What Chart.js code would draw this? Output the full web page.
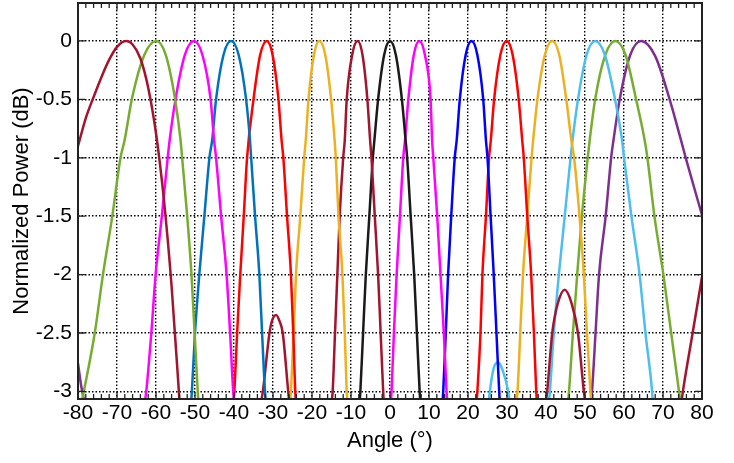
<!DOCTYPE html>
<html>
<head>
<meta charset="utf-8">
<script src="https://cdn.jsdelivr.net/npm/chart.js@4.4.1/dist/chart.umd.min.js"></script>
<style>
  body { margin: 0; background: #fff; }
  canvas { display: block; }
</style>
</head>
<body>
<canvas id="beams" width="734" height="463"></canvas>
<script>
// angle (deg), normalized power (dB), one list per beam
const beamA = [[-80, -0.9], [-78, -0.66], [-76, -0.48], [-74, -0.31], [-72, -0.16], [-70, -0.05], [-67.6, 0],
  [-66, -0.03], [-64, -0.15], [-62, -0.4], [-60, -0.79], [-58, -1.35], [-56, -2.1], [-54, -3.07], [-53.9, -3.12]];
const beamB = [[-79.1, -3.1], [-78.5, -3], [-75.7, -2.5], [-73.6, -2], [-71.2, -1.5], [-69.1, -1], [-68.05, -0.85],
  [-66.2, -0.5], [-63.0, -0.12], [-59.9, 0], [-57.5, -0.12], [-55.1, -0.5], [-53.7, -0.85], [-53.3, -1],
  [-52.0, -1.5], [-50.9, -2], [-50.1, -2.5], [-49.3, -3], [-49.1, -3.1]];
const beamC = [[-62.9, -3.1], [-62.5, -3], [-61.2, -2.5], [-60.1, -2], [-58.5, -1.5], [-57.0, -1], [-56.5, -0.85],
  [-55.0, -0.5], [-52.6, -0.12], [-50.3, 0], [-48.1, -0.12], [-46.0, -0.5], [-45.1, -0.85], [-44.6, -1],
  [-43.3, -1.5], [-41.9, -2], [-41.0, -2.5], [-40.2, -3], [-39.9, -3.1]];
const beamD = [[-51.0, -3.1], [-50.8, -3], [-50.0, -2.5], [-48.9, -2], [-47.6, -1.5], [-46.3, -1], [-45.6, -0.85],
  [-44.6, -0.5], [-42.7, -0.12], [-40.75, 0], [-38.8, -0.12], [-36.9, -0.5], [-35.9, -0.85], [-35.6, -1],
  [-34.6, -1.5], [-33.5, -2], [-32.8, -2.5], [-32.05, -3], [-31.8, -3.1]];
const beamE = [[-40.1, -3.1], [-39.9, -3], [-39.2, -2.5], [-38.4, -2], [-37.5, -1.5], [-36.65, -1], [-35.0, -0.5],
  [-33.3, -0.12], [-31.6, 0], [-30.1, -0.12], [-28.6, -0.5], [-27.8, -0.85], [-27.35, -1], [-26.4, -1.5],
  [-25.4, -2], [-24.8, -2.5], [-24.3, -3], [-24.1, -3.1]];
const sideA = [[-33.1, -3.1], [-32.6, -3], [-30.9, -2.5], [-30.2, -2.39], [-29.2, -2.345], [-28.3, -2.4],
  [-27.5, -2.5], [-26.1, -3], [-25.8, -3.1]];
const beamF = [[-25.6, -3.1], [-25.4, -3], [-24.7, -2.5], [-24.1, -2], [-23.0, -1.5], [-22.0, -1], [-21.6, -0.85],
  [-20.9, -0.5], [-19.5, -0.12], [-18.1, 0], [-16.6, -0.12], [-15.1, -0.5], [-14.2, -0.85], [-13.9, -1],
  [-13.2, -1.5], [-12.2, -2], [-11.6, -2.5], [-11.1, -3], [-10.9, -3.1]];
const beamG = [[-15.0, -3.1], [-14.7, -3], [-14.1, -2.5], [-13.5, -2], [-12.9, -1.5], [-12.0, -1], [-11.6, -0.85],
  [-11.1, -0.5], [-9.7, -0.12], [-8.3, 0], [-7.05, -0.12], [-5.8, -0.5], [-5.1, -0.85], [-4.75, -1],
  [-3.9, -1.5], [-3.05, -2], [-2.4, -2.5], [-1.75, -3], [-1.6, -3.1]];
const beamH = [[-7.8, -3.1], [-7.6, -3], [-6.9, -2.5], [-6.2, -2], [-5.3, -1.5], [-4.4, -1], [-4.0, -0.85],
  [-3.05, -0.5], [-1.5, -0.12], [0, 0], [1.5, -0.12], [3.05, -0.5], [4.0, -0.85], [4.4, -1], [5.3, -1.5],
  [6.2, -2], [6.9, -2.5], [7.6, -3], [7.8, -3.1]];
const beamI = [[0.2, -3.1], [0.4, -3], [1.0, -2.5], [1.7, -2], [2.55, -1.5], [3.4, -1], [3.85, -0.85],
  [4.7, -0.5], [6.1, -0.12], [7.5, 0], [8.95, -0.12], [10.4, -0.5], [10.8, -0.85], [11.1, -1], [12.1, -1.5],
  [12.95, -2], [13.8, -2.5], [14.5, -3], [14.7, -3.1]];
const beamJ = [[13.45, -3.1], [13.65, -3], [14.3, -2.5], [14.9, -2], [15.7, -1.5], [16.6, -1], [17.1, -0.85],
  [17.9, -0.5], [19.4, -0.12], [20.9, 0], [22.4, -0.12], [23.9, -0.5], [24.6, -0.85], [25.0, -1], [25.8, -1.5],
  [26.6, -2], [27.3, -2.5], [28.0, -3], [28.2, -3.1]];
const beamK = [[22.2, -3.1], [22.4, -3], [23.2, -2.5], [23.7, -2], [24.6, -1.5], [25.4, -1], [25.85, -0.85],
  [26.7, -0.5], [28.3, -0.12], [29.9, 0], [31.45, -0.12], [33.0, -0.5], [33.9, -0.85], [34.3, -1], [35.2, -1.5],
  [36.2, -2], [36.9, -2.5], [37.5, -3], [37.7, -3.1]];
const sideB = [[25.3, -3.1], [25.6, -3], [26.6, -2.8], [27.7, -2.75], [28.9, -2.82], [30.3, -3], [30.7, -3.1]];
const beamL = [[32.4, -3.1], [32.7, -3], [33.4, -2.5], [34.1, -2], [35.2, -1.5], [36.3, -1], [36.7, -0.85],
  [37.8, -0.5], [39.7, -0.12], [41.6, 0], [43.4, -0.12], [45.2, -0.5], [46.5, -0.85], [47.2, -1], [48.6, -1.5],
  [49.7, -2], [50.5, -2.5], [51.4, -3], [51.6, -3.1]];
const sideC = [[39.9, -3.1], [40.3, -3], [41.6, -2.5], [43.0, -2.25], [44.8, -2.13], [46.6, -2.25], [48.2, -2.5],
  [49.7, -3], [50.1, -3.1]];
const beamM = [[40.7, -3.1], [41.0, -3], [42.0, -2.5], [43.3, -2], [44.8, -1.5], [46.3, -1], [46.8, -0.85],
  [48.2, -0.5], [50.4, -0.12], [52.6, 0], [55.1, -0.12], [57.7, -0.5], [59.5, -0.85], [60.0, -1], [61.9, -1.5],
  [64.0, -2], [65.5, -2.5], [67.2, -3], [67.4, -3.1]];
const beamN = [[45.6, -3.1], [45.9, -3], [46.9, -2.5], [48.0, -2], [49.2, -1.5], [50.7, -1], [51.2, -0.85],
  [52.6, -0.5], [55.2, -0.12], [57.8, 0], [60.4, -0.12], [63.1, -0.5], [65.3, -0.85], [66.0, -1], [67.8, -1.5],
  [70.1, -2], [72.1, -2.5], [74.1, -3], [74.5, -3.1]];
const beamO = [[51.5, -3.1], [51.8, -3], [52.7, -2.5], [53.6, -2], [55.3, -1.5], [56.7, -1], [57.3, -0.85],
  [58.9, -0.5], [61.6, -0.12], [64.4, 0], [68.0, -0.13], [71.7, -0.5], [74.7, -0.86], [75.9, -1.01], [80, -1.49]];
const sideD = [[-80, -2.76], [-79.2, -2.95], [-78.3, -3.1]];
const sideE = [[74.7, -3.1], [75.1, -3], [77.6, -2.5], [80, -2.02]];

const xTicks = [-80, -70, -60, -50, -40, -30, -20, -10, 0, 10, 20, 30, 40, 50, 60, 70, 80];
const yTicks = [0, -0.5, -1, -1.5, -2, -2.5, -3];

const darkRed = '#A2142F', green = '#77AC30', magenta = '#FF00FF', steel = '#0072BD', red = '#FF0000',
  orange = '#EDB120', black = '#1a1a1a', blue = '#0000FF', sky = '#4DBEEE', purple = '#7E2F8E';

const series = [
  [beamA, darkRed], [beamB, green], [beamC, magenta], [beamD, steel], [beamE, red], [sideA, darkRed],
  [beamF, orange], [beamG, darkRed], [beamH, black], [beamI, magenta], [beamJ, blue], [beamK, red],
  [sideB, sky], [beamL, orange], [sideC, darkRed], [beamM, sky], [beamN, green], [beamO, purple],
  [sideD, purple], [sideE, darkRed]
];

const fontFamily = '"Liberation Sans", Arial, Helvetica, sans-serif';

// frame + inward tick marks like the original figure
const plotFrame = {
  id: 'plotFrame',
  afterDraw(chart) {
    const { ctx, chartArea: a, scales: { x, y } } = chart;
    ctx.save();
    ctx.strokeStyle = '#222';
    ctx.lineWidth = 1.3;
    ctx.beginPath();
    for (let v = xTicks[0]; v <= xTicks[xTicks.length - 1]; v += 2) {
      const px = x.getPixelForValue(v);
      const len = v % 10 === 0 ? 7 : 5;
      ctx.moveTo(px, a.bottom); ctx.lineTo(px, a.bottom - len);
      ctx.moveTo(px, a.top); ctx.lineTo(px, a.top + len);
    }
    yTicks.forEach(v => {
      const py = y.getPixelForValue(v);
      ctx.moveTo(a.left, py); ctx.lineTo(a.left + 7, py);
      ctx.moveTo(a.right, py); ctx.lineTo(a.right - 7, py);
    });
    ctx.stroke();
    ctx.lineWidth = 2;
    ctx.strokeRect(a.left, a.top, a.right - a.left, a.bottom - a.top);
    ctx.restore();
  }
};

new Chart(document.getElementById('beams'), {
  type: 'line',
  data: {
    datasets: series.map(([pts, col]) => ({
      data: pts.map(([angle, power]) => ({ x: angle, y: power })),
      borderColor: col,
      borderWidth: 2.5,
      pointRadius: 0,
      cubicInterpolationMode: 'monotone',
      fill: false
    }))
  },
  options: {
    responsive: false,
    animation: false,
    layout: { padding: { top: 3, right: 32, left: 0, bottom: 0 } },
    plugins: { legend: { display: false }, tooltip: { enabled: false } },
    scales: {
      x: {
        type: 'linear',
        min: -80,
        max: 80,
        afterBuildTicks: s => { s.ticks = xTicks.map(value => ({ value })); },
        afterFit: s => { s.height = 64; },
        ticks: { color: '#000', font: { family: fontFamily, size: 21 }, padding: 2, maxRotation: 0,
          callback: v => String(v) },
        grid: { color: '#000', lineWidth: 1.4, drawTicks: false },
        border: { display: false, dash: [1.5, 2] },
        title: { display: true, text: 'Angle (°)', color: '#000', font: { family: fontFamily, size: 22 },
          padding: { top: 0, bottom: 9 } }
      },
      y: {
        type: 'linear',
        min: -3.065,
        max: 0.325,
        afterBuildTicks: s => { s.ticks = yTicks.map(value => ({ value })); },
        afterFit: s => { s.width = 78; s.paddingTop = 0; s.paddingBottom = 0; },
        ticks: { color: '#000', font: { family: fontFamily, size: 21 }, padding: 6, callback: v => String(v) },
        grid: { color: '#000', lineWidth: 1.4, drawTicks: false },
        border: { display: false, dash: [1.5, 2] },
        title: { display: true, text: 'Normalized Power (dB)', color: '#000',
          font: { family: fontFamily, size: 22 }, padding: { top: 9, bottom: 0 } }
      }
    }
  },
  plugins: [plotFrame]
});
</script>
</body>
</html>
